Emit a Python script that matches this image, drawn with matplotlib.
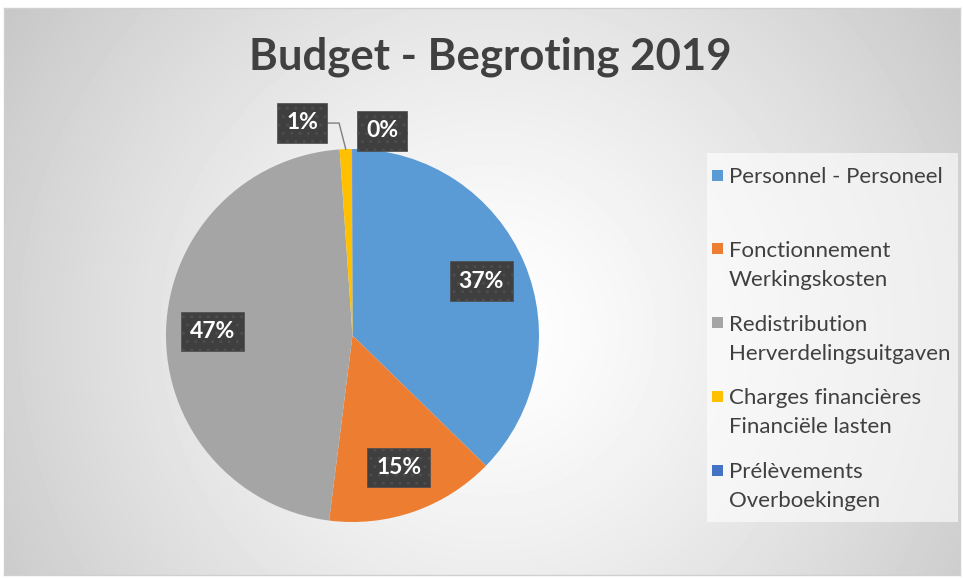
import numpy as np
from matplotlib import pyplot as plt
from matplotlib.patches import Rectangle

# data
categories = ['Personnel - Personeel', 'Fonctionnement\nWerkingskosten',
              'Redistribution\nHerverdelingsuitgaven', 'Charges financières\nFinanciële lasten',
              'Prélèvements\nOverboekingen']
shares = [37.3, 14.7, 46.9, 1.05, 0.05]
pct_labels = ['37%', '15%', '47%', '1%', '0%']
colors = ['#5B9BD5', '#ED7D31', '#A5A5A5', '#FFC000', '#4472C4']

W, H = 963, 579
plt.rcParams['font.family'] = ['Lato', 'DejaVu Sans']
fig = plt.figure(figsize=(W / 100, H / 100), dpi=100)
fig.patch.set_facecolor('white')

# background with radial gradient
x0, y0, x1, y1 = 4, 8, 960, 575
bg = fig.add_axes([x0 / W, 1 - y1 / H, (x1 - x0) / W, (y1 - y0) / H])
xx, yy = np.meshgrid(np.arange(x0, x1), np.arange(y0, y1))
d = np.sqrt((xx - 490) ** 2 + (yy - 330) ** 2) / 620
val = 1 - 0.24 * np.clip(d, 0, 1.2) ** 1.3
bg.imshow(val, cmap='gray', vmin=0, vmax=1, aspect='auto', interpolation='bilinear')
bg.set_xticks([])
bg.set_yticks([])
for s in bg.spines.values():
    s.set_color('#d0d0d0')
    s.set_linewidth(1)

fig.text(490 / W, 1 - 57 / H, 'Budget - Begroting 2019', ha='center', va='center',
         fontsize=31.5, fontweight='bold', color='#404040')

# pie
cx, cy, r = 352.5, 335.5, 186.5
ax = fig.add_axes([(cx - r) / W, (H - cy - r) / H, 2 * r / W, 2 * r / H])
wedges, _ = ax.pie(shares, colors=colors, startangle=90, counterclock=False,
                   wedgeprops=dict(linewidth=0))
ax.set_xlim(-1, 1)
ax.set_ylim(-1, 1)

box = dict(boxstyle='square,pad=0.4', facecolor='#3f3f3f', edgecolor='#4d4d4d',
           hatch='..', linewidth=0.5)
outside = {3: (-0.27, 1.14), 4: (0.158, 1.097)}
for i, w in enumerate(wedges):
    if i in outside:
        lx, ly = outside[i]
    else:
        a = np.deg2rad((w.theta1 + w.theta2) / 2)
        lx, ly = 0.75 * np.cos(a), 0.75 * np.sin(a)
    ax.text(lx, ly, pct_labels[i], ha='center', va='center', color='white',
            fontsize=16.5, fontweight='bold', bbox=box, zorder=5)

# leader line for the 1% slice
w = wedges[3]
a = np.deg2rad((w.theta1 + w.theta2) / 2)
ax.plot([-0.137, -0.072, np.cos(a)], [1.139, 1.139, np.sin(a)],
        color='#7f7f7f', lw=1, clip_on=False, zorder=4)

# legend
lg = fig.add_axes([707 / W, 1 - 522 / H, (958 - 707) / W, (522 - 153) / H])
lg.set_xlim(707, 958)
lg.set_ylim(522, 153)
lg.axis('off')
lg.add_patch(Rectangle((707, 153), 251, 369, facecolor='white', alpha=0.6, edgecolor='none'))
for i, lab in enumerate(categories):
    ty = 175 + i * 73.8
    lg.add_patch(Rectangle((712, ty - 5.5), 11, 11, facecolor=colors[i], edgecolor='none'))
    for j, line in enumerate(lab.split('\n')):
        lg.text(729, ty + j * 29, line, ha='left', va='center_baseline', fontsize=16,
                color='#404040')

fig.savefig('out.png', dpi=100)
